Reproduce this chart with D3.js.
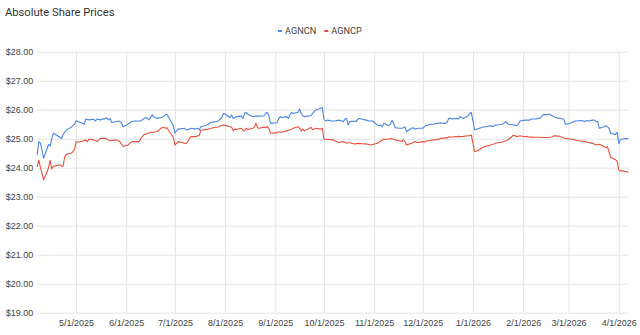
<!DOCTYPE html>
<html><head><meta charset="utf-8">
<script src="https://cdn.jsdelivr.net/npm/d3@7"></script>
<style>
html,body{margin:0;padding:0;background:#fff;}
svg{display:block;font-family:Roboto,"Liberation Sans",Arial,sans-serif;}
</style></head>
<body><svg id="chart" width="640" height="335"></svg>
<script>
const title = "Absolute Share Prices";
const seriesNames = ["AGNCN", "AGNCP"];
const seriesColors = ["#4a86e8", "#e8503a"];
const yTicks = [19, 20, 21, 22, 23, 24, 25, 26, 27, 28];
const xTickLabels = ["5/1/2025","6/1/2025","7/1/2025","8/1/2025","9/1/2025","10/1/2025","11/1/2025","12/1/2025","1/1/2026","2/1/2026","3/1/2026","4/1/2026"];
const xDomain = ["2025-04-07", "2026-04-07"];

const agncn = [
["2025-04-07",24.44],["2025-04-08",24.90],["2025-04-09",24.85],["2025-04-10",24.60],["2025-04-11",24.33],["2025-04-14",24.80],["2025-04-15",24.75],["2025-04-16",25.00],["2025-04-17",25.19],["2025-04-21",25.05],["2025-04-22",25.00],["2025-04-23",25.15],["2025-04-25",25.30],["2025-04-28",25.40],["2025-04-29",25.45],["2025-04-30",25.50],
["2025-05-01",25.62],["2025-05-02",25.59],["2025-05-05",25.53],["2025-05-06",25.50],["2025-05-07",25.68],["2025-05-09",25.65],["2025-05-12",25.67],["2025-05-13",25.61],["2025-05-14",25.68],["2025-05-16",25.65],["2025-05-19",25.70],["2025-05-20",25.72],["2025-05-21",25.65],["2025-05-22",25.70],["2025-05-23",25.56],["2025-05-27",25.61],["2025-05-28",25.59],["2025-05-29",25.56],["2025-05-30",25.41],
["2025-06-02",25.50],["2025-06-04",25.59],["2025-06-06",25.61],["2025-06-10",25.61],["2025-06-12",25.70],["2025-06-13",25.73],["2025-06-15",25.65],["2025-06-17",25.82],["2025-06-18",25.76],["2025-06-20",25.70],["2025-06-23",25.74],["2025-06-24",25.76],["2025-06-25",25.82],["2025-06-26",25.84],["2025-06-27",25.76],["2025-06-30",25.45],
["2025-07-01",25.19],["2025-07-02",25.27],["2025-07-03",25.33],["2025-07-07",25.36],["2025-07-08",25.30],["2025-07-10",25.33],["2025-07-11",25.36],["2025-07-14",25.33],["2025-07-15",25.36],["2025-07-16",25.30],["2025-07-17",25.41],["2025-07-21",25.47],["2025-07-23",25.56],["2025-07-25",25.58],["2025-07-28",25.61],["2025-07-29",25.68],["2025-07-30",25.73],["2025-07-31",25.87],
["2025-08-01",25.85],["2025-08-04",25.73],["2025-08-05",25.82],["2025-08-06",25.70],["2025-08-08",25.76],["2025-08-11",25.78],["2025-08-12",25.70],["2025-08-13",25.87],["2025-08-14",25.91],["2025-08-15",25.84],["2025-08-18",25.76],["2025-08-20",25.78],["2025-08-22",25.78],["2025-08-25",25.79],["2025-08-26",25.87],["2025-08-27",25.91],["2025-08-28",25.79],["2025-08-29",25.53],
["2025-09-02",25.55],["2025-09-03",25.68],["2025-09-04",25.76],["2025-09-05",25.73],["2025-09-08",25.76],["2025-09-09",25.70],["2025-09-10",25.82],["2025-09-11",25.91],["2025-09-12",25.87],["2025-09-15",25.91],["2025-09-16",26.02],["2025-09-17",25.87],["2025-09-18",25.79],["2025-09-19",25.76],["2025-09-22",25.79],["2025-09-23",25.79],["2025-09-24",25.87],["2025-09-25",25.93],["2025-09-26",25.99],["2025-09-29",26.05],["2025-09-30",26.07],
["2025-10-01",25.68],["2025-10-02",25.61],["2025-10-03",25.64],["2025-10-06",25.61],["2025-10-08",25.61],["2025-10-10",25.64],["2025-10-13",25.59],["2025-10-14",25.68],["2025-10-15",25.70],["2025-10-16",25.47],["2025-10-17",25.59],["2025-10-20",25.61],["2025-10-21",25.59],["2025-10-22",25.68],["2025-10-23",25.70],["2025-10-24",25.68],["2025-10-27",25.64],["2025-10-29",25.61],["2025-10-31",25.61],
["2025-11-03",25.47],["2025-11-04",25.45],["2025-11-05",25.47],["2025-11-06",25.41],["2025-11-07",25.53],["2025-11-10",25.45],["2025-11-11",25.50],["2025-11-12",25.64],["2025-11-13",25.53],["2025-11-14",25.38],["2025-11-17",25.36],["2025-11-18",25.36],["2025-11-19",25.38],["2025-11-20",25.41],["2025-11-21",25.24],["2025-11-24",25.36],["2025-11-25",25.38],["2025-11-26",25.33],["2025-11-28",25.36],
["2025-12-01",25.36],["2025-12-02",25.41],["2025-12-03",25.47],["2025-12-04",25.45],["2025-12-05",25.50],["2025-12-08",25.50],["2025-12-09",25.52],["2025-12-10",25.53],["2025-12-12",25.54],["2025-12-15",25.53],["2025-12-16",25.56],["2025-12-17",25.70],["2025-12-18",25.70],["2025-12-19",25.68],["2025-12-22",25.70],["2025-12-23",25.68],["2025-12-24",25.76],["2025-12-26",25.70],["2025-12-29",25.79],["2025-12-30",25.87],["2025-12-31",25.91],
["2026-01-02",25.30],["2026-01-05",25.36],["2026-01-06",25.38],["2026-01-08",25.41],["2026-01-09",25.41],["2026-01-12",25.45],["2026-01-13",25.41],["2026-01-15",25.47],["2026-01-16",25.47],["2026-01-19",25.50],["2026-01-20",25.53],["2026-01-21",25.59],["2026-01-22",25.53],["2026-01-23",25.50],["2026-01-26",25.47],["2026-01-28",25.45],["2026-01-29",25.50],["2026-01-30",25.61],
["2026-02-02",25.64],["2026-02-03",25.64],["2026-02-05",25.64],["2026-02-06",25.68],["2026-02-09",25.68],["2026-02-10",25.70],["2026-02-11",25.70],["2026-02-12",25.73],["2026-02-13",25.82],["2026-02-17",25.84],["2026-02-18",25.82],["2026-02-19",25.79],["2026-02-20",25.76],["2026-02-23",25.70],["2026-02-24",25.70],["2026-02-25",25.68],["2026-02-26",25.68],["2026-02-27",25.50],
["2026-03-02",25.53],["2026-03-03",25.56],["2026-03-05",25.61],["2026-03-06",25.61],["2026-03-09",25.63],["2026-03-10",25.61],["2026-03-11",25.59],["2026-03-12",25.63],["2026-03-13",25.61],["2026-03-16",25.64],["2026-03-17",25.64],["2026-03-18",25.59],["2026-03-19",25.59],["2026-03-20",25.36],["2026-03-23",25.41],["2026-03-24",25.45],["2026-03-25",25.41],["2026-03-26",25.36],["2026-03-27",25.18],["2026-03-30",25.15],["2026-03-31",25.22],
["2026-04-01",24.84],["2026-04-02",24.96],["2026-04-03",24.99],["2026-04-06",25.01],["2026-04-07",24.99]
];

const agncp = [
["2025-04-07",24.03],["2025-04-08",24.26],["2025-04-09",24.00],["2025-04-10",23.80],["2025-04-11",23.58],["2025-04-14",24.00],["2025-04-15",24.25],["2025-04-16",23.96],["2025-04-17",24.05],["2025-04-21",24.10],["2025-04-22",24.05],["2025-04-23",24.05],["2025-04-24",24.38],["2025-04-25",24.46],["2025-04-28",24.50],["2025-04-29",24.55],["2025-04-30",24.62],
["2025-05-01",24.90],["2025-05-02",24.88],["2025-05-05",24.92],["2025-05-07",24.95],["2025-05-08",24.90],["2025-05-09",24.99],["2025-05-12",24.96],["2025-05-14",24.90],["2025-05-16",25.01],["2025-05-19",25.01],["2025-05-20",24.99],["2025-05-22",24.93],["2025-05-26",24.96],["2025-05-28",24.90],["2025-05-30",24.73],
["2025-06-02",24.78],["2025-06-03",24.84],["2025-06-05",24.90],["2025-06-09",24.90],["2025-06-10",25.01],["2025-06-12",25.15],["2025-06-13",25.15],["2025-06-16",25.22],["2025-06-18",25.22],["2025-06-20",25.25],["2025-06-23",25.38],["2025-06-24",25.39],["2025-06-25",25.36],["2025-06-26",25.38],["2025-06-27",25.30],["2025-06-30",25.05],
["2025-07-01",24.78],["2025-07-02",24.84],["2025-07-03",24.90],["2025-07-07",24.84],["2025-07-08",24.84],["2025-07-09",24.90],["2025-07-10",25.01],["2025-07-11",25.07],["2025-07-14",25.07],["2025-07-15",25.10],["2025-07-16",25.10],["2025-07-17",25.30],["2025-07-18",25.30],["2025-07-21",25.32],["2025-07-23",25.36],["2025-07-25",25.38],["2025-07-28",25.41],["2025-07-29",25.44],["2025-07-31",25.47],
["2025-08-01",25.46],["2025-08-04",25.41],["2025-08-05",25.40],["2025-08-06",25.27],["2025-08-07",25.33],["2025-08-08",25.32],["2025-08-11",25.36],["2025-08-12",25.30],["2025-08-13",25.27],["2025-08-14",25.36],["2025-08-15",25.32],["2025-08-18",25.36],["2025-08-19",25.40],["2025-08-20",25.53],["2025-08-21",25.38],["2025-08-22",25.36],["2025-08-25",25.40],["2025-08-26",25.38],["2025-08-27",25.42],["2025-08-28",25.36],["2025-08-29",25.19],
["2025-09-02",25.20],["2025-09-03",25.24],["2025-09-04",25.22],["2025-09-05",25.22],["2025-09-08",25.27],["2025-09-09",25.29],["2025-09-10",25.31],["2025-09-11",25.32],["2025-09-12",25.36],["2025-09-15",25.41],["2025-09-16",25.36],["2025-09-17",25.27],["2025-09-18",25.33],["2025-09-19",25.27],["2025-09-22",25.36],["2025-09-23",25.39],["2025-09-24",25.31],["2025-09-25",25.33],["2025-09-26",25.36],["2025-09-29",25.33],["2025-09-30",25.36],
["2025-10-01",24.98],["2025-10-02",24.98],["2025-10-03",24.98],["2025-10-06",24.96],["2025-10-07",24.95],["2025-10-08",24.92],["2025-10-09",24.90],["2025-10-10",24.87],["2025-10-13",24.90],["2025-10-14",24.88],["2025-10-15",24.84],["2025-10-16",24.86],["2025-10-17",24.86],["2025-10-20",24.82],["2025-10-22",24.84],["2025-10-24",24.83],["2025-10-27",24.82],["2025-10-29",24.80],["2025-10-30",24.78],["2025-10-31",24.80],
["2025-11-03",24.84],["2025-11-04",24.88],["2025-11-05",24.92],["2025-11-07",24.98],["2025-11-10",24.98],["2025-11-11",25.00],["2025-11-12",25.01],["2025-11-13",24.98],["2025-11-14",24.96],["2025-11-17",24.92],["2025-11-18",24.90],["2025-11-19",24.96],["2025-11-20",24.90],["2025-11-21",24.78],["2025-11-24",24.84],["2025-11-25",24.87],["2025-11-26",24.90],["2025-11-28",24.86],
["2025-12-01",24.90],["2025-12-02",24.88],["2025-12-03",24.92],["2025-12-04",24.92],["2025-12-05",24.94],["2025-12-08",24.96],["2025-12-09",24.96],["2025-12-10",24.99],["2025-12-11",24.98],["2025-12-12",25.01],["2025-12-15",25.03],["2025-12-16",25.02],["2025-12-17",25.07],["2025-12-18",25.05],["2025-12-19",25.06],["2025-12-22",25.07],["2025-12-23",25.08],["2025-12-24",25.07],["2025-12-26",25.08],["2025-12-29",25.10],["2025-12-30",25.10],["2025-12-31",25.13],
["2026-01-02",24.55],["2026-01-05",24.62],["2026-01-06",24.67],["2026-01-07",24.70],["2026-01-08",24.72],["2026-01-09",24.74],["2026-01-12",24.78],["2026-01-13",24.81],["2026-01-14",24.82],["2026-01-15",24.84],["2026-01-16",24.86],["2026-01-19",24.88],["2026-01-20",24.90],["2026-01-21",24.92],["2026-01-22",24.94],["2026-01-23",24.98],["2026-01-26",25.12],["2026-01-27",25.10],["2026-01-28",25.07],["2026-01-30",25.10],
["2026-02-02",25.07],["2026-02-04",25.07],["2026-02-05",25.05],["2026-02-06",25.06],["2026-02-09",25.05],["2026-02-11",25.05],["2026-02-13",25.04],["2026-02-16",25.04],["2026-02-18",25.05],["2026-02-19",25.07],["2026-02-20",25.10],["2026-02-23",25.09],["2026-02-24",25.07],["2026-02-25",25.05],["2026-02-27",25.01],
["2026-03-02",24.99],["2026-03-04",24.98],["2026-03-06",24.94],["2026-03-09",24.92],["2026-03-11",24.90],["2026-03-13",24.87],["2026-03-16",24.84],["2026-03-17",24.81],["2026-03-18",24.78],["2026-03-19",24.80],["2026-03-20",24.81],["2026-03-23",24.72],["2026-03-24",24.69],["2026-03-25",24.72],["2026-03-26",24.55],["2026-03-27",24.35],["2026-03-30",24.27],["2026-03-31",24.23],
["2026-04-01",23.92],["2026-04-02",23.89],["2026-04-03",23.89],["2026-04-06",23.86],["2026-04-07",23.84]
];

const parse = d3.timeParse("%Y-%m-%d");
const tickParse = d3.timeParse("%m/%d/%Y");
const svg = d3.select("#chart");
const plotLeft = 37.2, plotRight = 628.5, plotTop = 51.7, plotBottom = 312.7;

const x = d3.scaleTime().domain(xDomain.map(parse)).range([plotLeft, plotRight]);
const y = d3.scaleLinear().domain([19, 28]).range([plotBottom, plotTop]);

const yAxis = d3.axisLeft(y).tickValues(yTicks).tickSize(-(plotRight - plotLeft)).tickPadding(4)
  .tickFormat(d => "$" + d3.format(".2f")(d));
const gy = svg.append("g").attr("transform", `translate(${plotLeft},0)`).call(yAxis);
gy.select(".domain").remove();
gy.selectAll(".tick line").attr("stroke", "#e3e3e3").attr("stroke-width", 1);
gy.selectAll(".tick text").attr("fill", "#444").attr("font-size", 9);

const xTickDates = xTickLabels.map(tickParse);
const xAxis = d3.axisBottom(x).tickValues(xTickDates).tickSize(-(plotBottom - plotTop)).tickPadding(7)
  .tickFormat(d => d3.timeFormat("%-m/%-d/%Y")(d));
const gx = svg.append("g").attr("transform", `translate(0,${plotBottom})`).call(xAxis);
gx.select(".domain").remove();
gx.selectAll(".tick line").attr("stroke", "#e3e3e3").attr("stroke-width", 1);
gx.selectAll(".tick text").attr("fill", "#444").attr("font-size", 9);

const line = d3.line().x(d => x(parse(d[0]))).y(d => y(d[1]));
[agncn, agncp].forEach((s, i) => {
  svg.append("path").datum(s).attr("d", line).attr("fill", "none")
    .attr("stroke", seriesColors[i]).attr("stroke-width", 1.1).attr("stroke-linejoin", "round");
});

svg.append("text").attr("x", 5).attr("y", 15.5).attr("font-size", 11.2).attr("fill", "#333").text(title);

const lg = svg.append("g").attr("transform", "translate(278,34)");
let lx = 0;
seriesNames.forEach((n, i) => {
  lg.append("rect").attr("x", lx).attr("y", -4).attr("width", 4).attr("height", 2).attr("fill", seriesColors[i]);
  const t = lg.append("text").attr("x", lx + 7).attr("y", 0).attr("font-size", 9.2).attr("fill", "#444").text(n);
  lx += 7 + t.node().getComputedTextLength() + 8;
});
</script></body></html>
